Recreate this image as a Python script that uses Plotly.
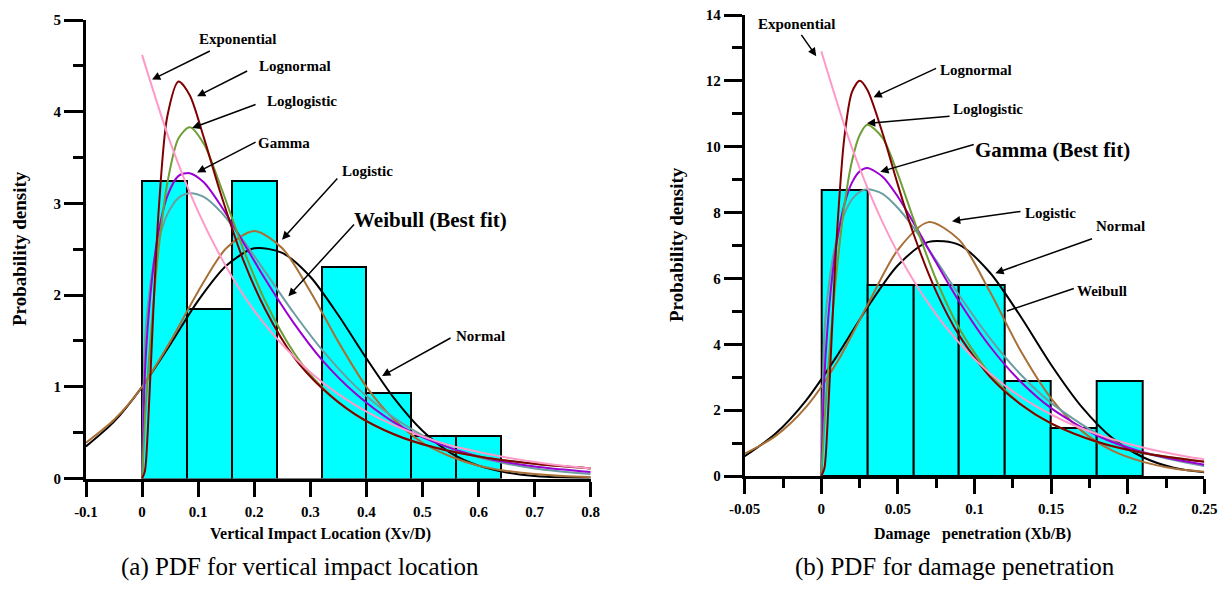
import plotly.graph_objects as go

# ---------------- (a) vertical impact location ----------------
bins_a_left = [0.00, 0.08, 0.16, 0.24, 0.32, 0.40, 0.48, 0.56]
density_a = [3.24, 1.85, 3.24, 0.00, 2.31, 0.93, 0.46, 0.46]

xa_pos = [0, 0.005, 0.01, 0.02, 0.03, 0.045, 0.065, 0.085, 0.11, 0.14,
          0.18, 0.22, 0.27, 0.32, 0.38, 0.45, 0.52, 0.60, 0.70, 0.80]
lognormal_a = [0, 0.08, 0.50, 1.82, 2.96, 3.95, 4.33, 4.18, 3.72, 3.11,
               2.39, 1.84, 1.33, 0.99, 0.70, 0.48, 0.34, 0.24, 0.16, 0.11]
loglogistic_a = [0, 0.63, 1.11, 1.90, 2.53, 3.22, 3.71, 3.83, 3.65, 3.19,
                 2.51, 1.93, 1.38, 1.00, 0.70, 0.48, 0.34, 0.24, 0.16, 0.11]
gamma_a = [0, 1.14, 1.65, 2.30, 2.71, 3.08, 3.30, 3.33, 3.23, 2.98,
           2.58, 2.17, 1.70, 1.30, 0.93, 0.61, 0.40, 0.24, 0.13, 0.07]
weibull_a = [0, 1.48, 1.87, 2.33, 2.61, 2.88, 3.06, 3.11, 3.07, 2.91,
             2.60, 2.25, 1.81, 1.41, 1.01, 0.66, 0.41, 0.23, 0.11, 0.05]

xa_exp = [0, 0.05, 0.10, 0.15, 0.20, 0.25, 0.30, 0.35, 0.40, 0.45,
          0.50, 0.55, 0.60, 0.65, 0.70, 0.75, 0.80]
exponential_a = [4.62, 3.67, 2.91, 2.31, 1.83, 1.46, 1.16, 0.92, 0.73, 0.58,
                 0.46, 0.36, 0.29, 0.23, 0.18, 0.14, 0.11]

xa_full = [-0.10, -0.05, 0, 0.05, 0.10, 0.15, 0.20, 0.25, 0.30, 0.35,
           0.40, 0.45, 0.50, 0.55, 0.60, 0.65, 0.70, 0.75, 0.80]
normal_a = [0.35, 0.62, 1.00, 1.46, 1.94, 2.32, 2.51, 2.46, 2.20, 1.78,
            1.31, 0.87, 0.52, 0.28, 0.14, 0.065, 0.027, 0.010, 0.004]
logistic_a = [0.39, 0.64, 1.00, 1.49, 2.04, 2.51, 2.70, 2.51, 2.04, 1.49,
              1.00, 0.64, 0.39, 0.24, 0.14, 0.083, 0.049, 0.028, 0.017]

xa_ticks = [-0.1, 0, 0.1, 0.2, 0.3, 0.4, 0.5, 0.6, 0.7, 0.8]
xa_ticktext = ["-0.1", "0", "0.1", "0.2", "0.3", "0.4", "0.5", "0.6", "0.7", "0.8"]
ya_ticks = [0, 1, 2, 3, 4, 5]

# ---------------- (b) damage penetration ----------------
bins_b_left = [0.00, 0.03, 0.06, 0.09, 0.12, 0.15, 0.18]
density_b = [8.70, 5.80, 5.80, 5.80, 2.90, 1.45, 2.90]

xb_pos = [0, 0.002, 0.004, 0.007, 0.01, 0.015, 0.02, 0.025, 0.03, 0.04,
          0.05, 0.06, 0.075, 0.09, 0.11, 0.13, 0.15, 0.18, 0.21, 0.25]
lognormal_b = [0, 0.23, 1.52, 4.45, 7.19, 10.26, 11.66, 12.00, 11.73, 10.41,
               8.84, 7.38, 5.60, 4.27, 3.02, 2.18, 1.60, 1.04, 0.70, 0.43]
loglogistic_b = [0, 1.61, 2.94, 4.69, 6.20, 8.20, 9.56, 10.35, 10.67, 10.27,
                 9.16, 7.83, 5.96, 4.49, 3.10, 2.19, 1.59, 1.03, 0.70, 0.44]
gamma_b = [0, 2.99, 4.47, 6.00, 7.07, 8.24, 8.91, 9.25, 9.35, 9.09,
           8.48, 7.71, 6.48, 5.30, 3.94, 2.87, 2.06, 1.23, 0.72, 0.34]
weibull_b = [0, 4.30, 5.43, 6.48, 7.19, 7.95, 8.40, 8.63, 8.71, 8.57,
             8.14, 7.56, 6.54, 5.49, 4.19, 3.09, 2.22, 1.29, 0.71, 0.30]

xb_exp = [0, 0.02, 0.04, 0.06, 0.08, 0.10, 0.12, 0.14, 0.16, 0.18,
          0.20, 0.22, 0.24, 0.25]
exponential_b = [12.9, 9.97, 7.70, 5.95, 4.60, 3.55, 2.74, 2.12, 1.64, 1.27,
                 0.98, 0.76, 0.58, 0.51]

xb_full = [-0.05, -0.03, -0.01, 0.01, 0.03, 0.05, 0.07, 0.09, 0.11, 0.13,
           0.15, 0.17, 0.19, 0.21, 0.23, 0.25]
normal_b = [0.60, 1.28, 2.29, 3.63, 5.11, 6.40, 7.11, 7.02, 6.18, 4.85,
            3.38, 2.10, 1.15, 0.57, 0.25, 0.11]
logistic_b = [0.68, 1.21, 2.09, 3.43, 5.18, 6.87, 7.71, 7.17, 5.60, 3.81,
              2.36, 1.37, 0.77, 0.43, 0.23, 0.13]

xb_ticks = [-0.05, 0, 0.05, 0.1, 0.15, 0.2, 0.25]
xb_ticktext = ["-0.05", "0", "0.05", "0.1", "0.15", "0.2", "0.25"]
yb_ticks = [0, 2, 4, 6, 8, 10, 12, 14]

# ---------------- styling ----------------
SERIF = "Liberation Serif"
COLORS = {
    "Normal": "#000000",
    "Logistic": "#A86F36",
    "Weibull": "#6B9EA0",
    "Gamma": "#9A00D6",
    "Loglogistic": "#6E9E36",
    "Lognormal": "#800000",
    "Exponential": "#FF99C8",
}

fig = go.Figure()


def add_histogram(edges, dens, xa, ya):
    w = edges[1] - edges[0]
    fig.add_trace(go.Bar(
        x=[e + w / 2 for e in edges], y=dens, width=w,
        marker=dict(color="#00FFFF", line=dict(color="black", width=2)),
        xaxis=xa, yaxis=ya, showlegend=False, hoverinfo="skip"))


def add_curve(x, y, name, xa, ya):
    fig.add_trace(go.Scatter(
        x=x, y=y, mode="lines", name=name,
        line=dict(color=COLORS[name], width=2, shape="spline", smoothing=0.8),
        xaxis=xa, yaxis=ya, showlegend=False, cliponaxis=True))


# panel (a)
add_histogram(bins_a_left, density_a, "x", "y")
add_curve(xa_full, normal_a, "Normal", "x", "y")
add_curve(xa_full, logistic_a, "Logistic", "x", "y")
add_curve(xa_pos, weibull_a, "Weibull", "x", "y")
add_curve(xa_pos, gamma_a, "Gamma", "x", "y")
add_curve(xa_pos, loglogistic_a, "Loglogistic", "x", "y")
add_curve(xa_pos, lognormal_a, "Lognormal", "x", "y")
add_curve(xa_exp, exponential_a, "Exponential", "x", "y")

# panel (b)
add_histogram(bins_b_left, density_b, "x2", "y2")
add_curve(xb_full, normal_b, "Normal", "x2", "y2")
add_curve(xb_full, logistic_b, "Logistic", "x2", "y2")
add_curve(xb_pos, weibull_b, "Weibull", "x2", "y2")
add_curve(xb_pos, gamma_b, "Gamma", "x2", "y2")
add_curve(xb_pos, loglogistic_b, "Loglogistic", "x2", "y2")
add_curve(xb_pos, lognormal_b, "Lognormal", "x2", "y2")
add_curve(xb_exp, exponential_b, "Exponential", "x2", "y2")

tick_font = dict(family=SERIF, size=15, color="black", weight="bold")
axis_common = dict(showline=True, linewidth=3, linecolor="black", showgrid=False,
                   zeroline=False, ticks="outside", tickwidth=3, tickcolor="black",
                   tickfont=tick_font, fixedrange=True, automargin=False)

fig.update_layout(
    width=1227, height=594, margin=dict(l=0, r=0, t=0, b=0, autoexpand=False),
    paper_bgcolor="white", plot_bgcolor="white", bargap=0,
    xaxis=dict(domain=[86 / 1227, 590.7 / 1227], range=[-0.1, 0.8], anchor="y",
               tickvals=xa_ticks, ticktext=xa_ticktext, ticklen=15,
               ticklabelstandoff=2, **axis_common),
    yaxis=dict(domain=[(594 - 478.5) / 594, (594 - 20) / 594], range=[0, 5], anchor="x",
               tickvals=ya_ticks, ticklen=19,
               minor=dict(dtick=0.5, ticklen=10, tickwidth=3, tickcolor="black", ticks="outside"),
               **axis_common),
    xaxis2=dict(domain=[744.7 / 1227, 1204.3 / 1227], range=[-0.05, 0.25], anchor="y2",
                tickvals=xb_ticks, ticktext=xb_ticktext, ticklen=15,
                ticklabelstandoff=2,
                minor=dict(dtick=0.025, tick0=0, ticklen=9, tickwidth=3, tickcolor="black", ticks="outside"),
                **axis_common),
    yaxis2=dict(domain=[(594 - 476) / 594, (594 - 15) / 594], range=[0, 14], anchor="x2",
                tickvals=yb_ticks, ticklen=18,
                minor=dict(dtick=1, ticklen=10, tickwidth=3, tickcolor="black", ticks="outside"),
                **axis_common),
)

label_font = dict(family=SERIF, size=15, color="black", weight="bold")
big_font = dict(family=SERIF, size=21, color="black", weight="bold")

# (text, text x, text y, arrow tail x, tail y, head x, head y, big, arrowhead)
labels_a = [
    ("Exponential", 0.171, 4.79, 0.1236, 4.67, 0.0178, 4.35, False, True),
    ("Lognormal", 0.2734, 4.496, 0.1901, 4.452, 0.0981, 4.168, False, True),
    ("Loglogistic", 0.2858, 4.113, 0.2051, 4.085, 0.0892, 3.823, False, True),
    ("Gamma", 0.2537, 3.659, 0.2051, 3.677, 0.0981, 3.338, False, True),
    ("Logistic", 0.4026, 3.349, 0.3506, 3.288, 0.2496, 2.604, False, True),
    ("Weibull (Best fit)", 0.515, 2.814, 0.3804, 2.786, 0.2609, 1.987, True, True),
    ("Normal", 0.6027, 1.556, 0.5528, 1.541, 0.428, 1.119, False, True),
]
labels_b = [
    ("Exponential", -0.0159, 13.73, -0.0137, 13.44, -0.0033, 12.75, False, True),
    ("Lognormal", 0.1012, 12.33, 0.0759, 12.40, 0.0341, 11.50, False, True),
    ("Loglogistic", 0.1091, 11.15, 0.0847, 10.93, 0.0298, 10.71, False, True),
    ("Gamma (Best fit)", 0.1508, 9.90, 0.1005, 10.08, 0.0385, 9.24, True, True),
    ("Logistic", 0.1493, 8.00, 0.1310, 8.04, 0.0853, 7.74, False, True),
    ("Normal", 0.1955, 7.59, 0.1777, 7.22, 0.1136, 6.16, False, True),
    ("Weibull", 0.1832, 5.63, 0.1658, 5.71, 0.1212, 5.01, False, False),
]

annotations = []
for labels, xr, yr in ((labels_a, "x", "y"), (labels_b, "x2", "y2")):
    for text, tx, ty, ax, ay, hx, hy, big, head in labels:
        annotations.append(dict(
            text=text, x=tx, y=ty, xref=xr, yref=yr, showarrow=False,
            xanchor="center", yanchor="middle", font=big_font if big else label_font))
        annotations.append(dict(
            text="", x=hx, y=hy, ax=ax, ay=ay, xref=xr, yref=yr, axref=xr, ayref=yr,
            showarrow=True, arrowhead=2 if head else 0, arrowsize=1.1,
            arrowwidth=1.5, arrowcolor="black", standoff=0, startstandoff=0))

axis_title_font = dict(family=SERIF, size=16, color="black", weight="bold")
caption_font = dict(family=SERIF, size=25, color="black")
paper_texts = [
    ("Probability density", 20 / 1227, 1 - 249 / 594, -90, dict(axis_title_font, size=19)),
    ("Probability density", 677 / 1227, 1 - 245 / 594, -90, dict(axis_title_font, size=19)),
    ("Vertical Impact Location (Xv/D)", 320 / 1227, 1 - 534 / 594, 0, axis_title_font),
    ("Damage\u00a0\u00a0\u00a0penetration (Xb/B)", 972 / 1227, 1 - 534 / 594, 0, axis_title_font),
    ("(a) PDF for vertical impact location", 300 / 1227, 1 - 567 / 594, 0, caption_font),
    ("(b) PDF for damage penetration", 955 / 1227, 1 - 567 / 594, 0, caption_font),
]
for text, px, py, ang, fnt in paper_texts:
    annotations.append(dict(text=text, x=px, y=py, xref="paper", yref="paper",
                            showarrow=False, textangle=ang, font=fnt,
                            xanchor="center", yanchor="middle"))

fig.update_layout(annotations=annotations)
fig.write_html("out.html")
